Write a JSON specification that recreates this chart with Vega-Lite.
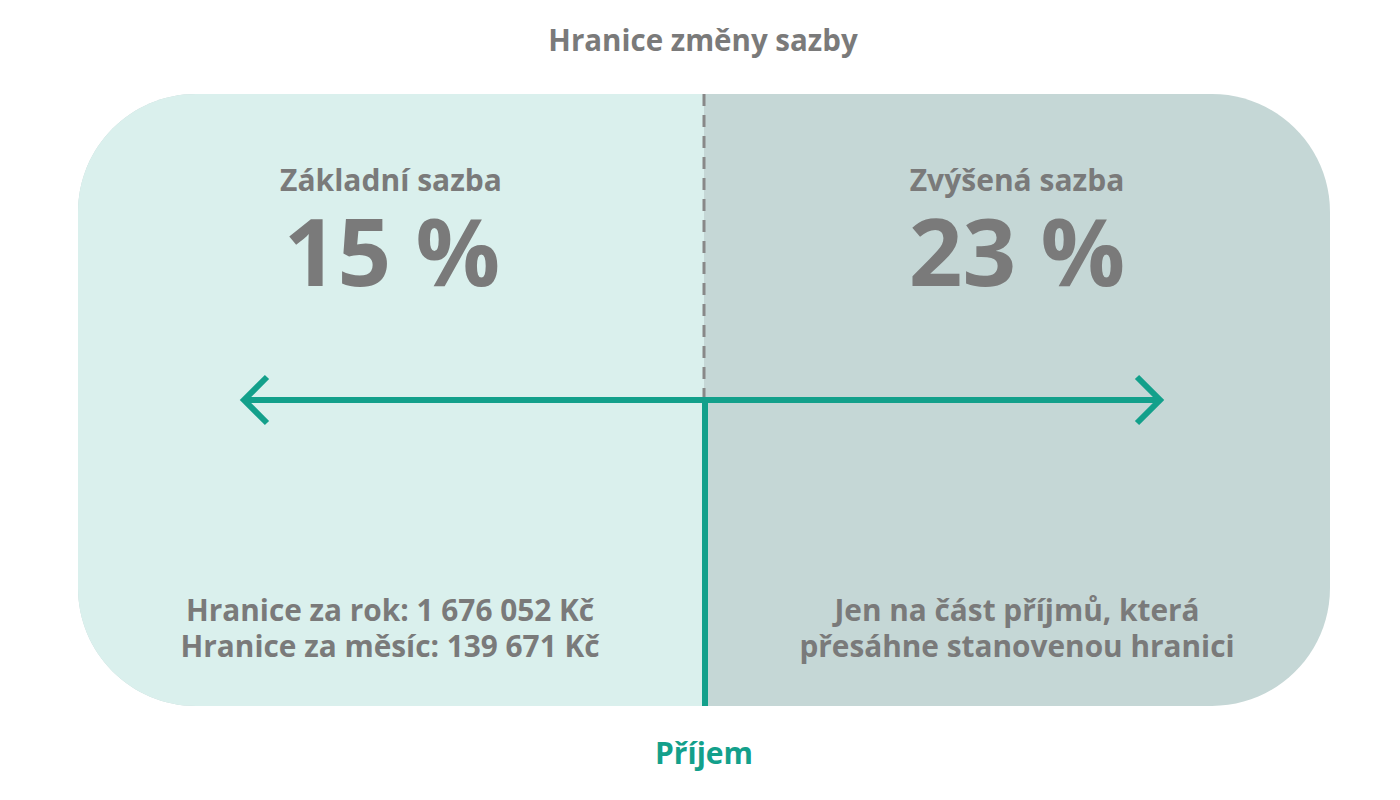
{
  "$schema": "https://vega.github.io/schema/vega-lite/v6.json",
  "width": 1400,
  "height": 800,
  "autosize": {"type": "fit", "contains": "padding"},
  "padding": 0,
  "background": "white",
  "config": {
    "view": {"stroke": null},
    "text": {"font": "Open Sans", "fontWeight": "bold", "color": "#7a7a7a"}
  },
  "datasets": {
    "celek": [{"pasmo": "Zvýšená sazba", "od": 78, "do": 1330, "horni": 94, "dolni": 706}],
    "zaklad": [{"pasmo": "Základní sazba", "od": 78, "do": 704, "horni": 94, "dolni": 706}],
    "hranice": [{"x": 704, "y": 94, "y2": 400}],
    "osa": [{"x": 243, "x2": 1161, "y": 400}],
    "svisla": [{"x": 705, "y": 400, "y2": 706}],
    "sipky": [
      {"sipka": "vlevo", "poradi": 1, "x": 267, "y": 377},
      {"sipka": "vlevo", "poradi": 2, "x": 244, "y": 400},
      {"sipka": "vlevo", "poradi": 3, "x": 267, "y": 423},
      {"sipka": "vpravo", "poradi": 1, "x": 1137, "y": 377},
      {"sipka": "vpravo", "poradi": 2, "x": 1160, "y": 400},
      {"sipka": "vpravo", "poradi": 3, "x": 1137, "y": 423}
    ],
    "nadpis": [{"x": 703, "y": 42, "text": "Hranice změny sazby"}],
    "sazby": [
      {"x": 391, "y": 182, "text": "Základní sazba"},
      {"x": 1017, "y": 182, "text": "Zvýšená sazba"}
    ],
    "procenta": [
      {"x": 392, "y": 258, "text": "15 %"},
      {"x": 1017, "y": 258, "text": "23 %"}
    ],
    "poznamky": [
      {"x": 390, "y": 612, "text": ["Hranice za rok: 1 676 052 Kč", "Hranice za měsíc: 139 671 Kč"]},
      {"x": 1017, "y": 612, "text": ["Jen na část příjmů, která", "přesáhne stanovenou hranici"]}
    ],
    "prijem": [{"x": 704, "y": 755, "text": "Příjem"}]
  },
  "layer": [
    {
      "data": {"name": "celek"},
      "mark": {"type": "rect", "cornerRadius": 118, "fill": "#c5d7d6"},
      "encoding": {
        "x": {"field": "od", "type": "quantitative", "scale": {"domain": [0, 1400]}, "axis": null},
        "x2": {"field": "do"},
        "y": {"field": "horni", "type": "quantitative", "scale": {"domain": [0, 800], "reverse": true}, "axis": null},
        "y2": {"field": "dolni"}
      }
    },
    {
      "data": {"name": "zaklad"},
      "mark": {"type": "rect", "cornerRadiusTopLeft": 118, "cornerRadiusBottomLeft": 118, "fill": "#daf0ed"},
      "encoding": {
        "x": {"field": "od", "type": "quantitative"},
        "x2": {"field": "do"},
        "y": {"field": "horni", "type": "quantitative"},
        "y2": {"field": "dolni"}
      }
    },
    {
      "data": {"name": "hranice"},
      "mark": {"type": "rule", "color": "#888888", "strokeWidth": 3, "strokeDash": [12, 9]},
      "encoding": {
        "x": {"field": "x", "type": "quantitative"},
        "y": {"field": "y", "type": "quantitative"},
        "y2": {"field": "y2"}
      }
    },
    {
      "data": {"name": "osa"},
      "mark": {"type": "rule", "color": "#13a08b", "strokeWidth": 6},
      "encoding": {
        "x": {"field": "x", "type": "quantitative"},
        "x2": {"field": "x2"},
        "y": {"field": "y", "type": "quantitative"}
      }
    },
    {
      "data": {"name": "svisla"},
      "mark": {"type": "rule", "color": "#13a08b", "strokeWidth": 6},
      "encoding": {
        "x": {"field": "x", "type": "quantitative"},
        "y": {"field": "y", "type": "quantitative"},
        "y2": {"field": "y2"}
      }
    },
    {
      "data": {"name": "sipky"},
      "mark": {"type": "line", "color": "#13a08b", "strokeWidth": 6, "strokeCap": "butt", "strokeJoin": "miter"},
      "encoding": {
        "x": {"field": "x", "type": "quantitative"},
        "y": {"field": "y", "type": "quantitative"},
        "detail": {"field": "sipka"},
        "order": {"field": "poradi"}
      }
    },
    {
      "data": {"name": "nadpis"},
      "mark": {"type": "text", "fontSize": 29.5, "baseline": "middle"},
      "encoding": {
        "x": {"field": "x", "type": "quantitative"},
        "y": {"field": "y", "type": "quantitative"},
        "text": {"field": "text"}
      }
    },
    {
      "data": {"name": "sazby"},
      "mark": {"type": "text", "fontSize": 30, "baseline": "middle"},
      "encoding": {
        "x": {"field": "x", "type": "quantitative"},
        "y": {"field": "y", "type": "quantitative"},
        "text": {"field": "text"}
      }
    },
    {
      "data": {"name": "procenta"},
      "mark": {"type": "text", "fontSize": 94, "baseline": "middle"},
      "encoding": {
        "x": {"field": "x", "type": "quantitative"},
        "y": {"field": "y", "type": "quantitative"},
        "text": {"field": "text"}
      }
    },
    {
      "data": {"name": "poznamky"},
      "mark": {"type": "text", "fontSize": 29.8, "baseline": "middle", "lineHeight": 36},
      "encoding": {
        "x": {"field": "x", "type": "quantitative"},
        "y": {"field": "y", "type": "quantitative"},
        "text": {"field": "text"}
      }
    },
    {
      "data": {"name": "prijem"},
      "mark": {"type": "text", "fontSize": 30, "baseline": "middle", "color": "#13a08b"},
      "encoding": {
        "x": {"field": "x", "type": "quantitative"},
        "y": {"field": "y", "type": "quantitative"},
        "text": {"field": "text"}
      }
    }
  ]
}
